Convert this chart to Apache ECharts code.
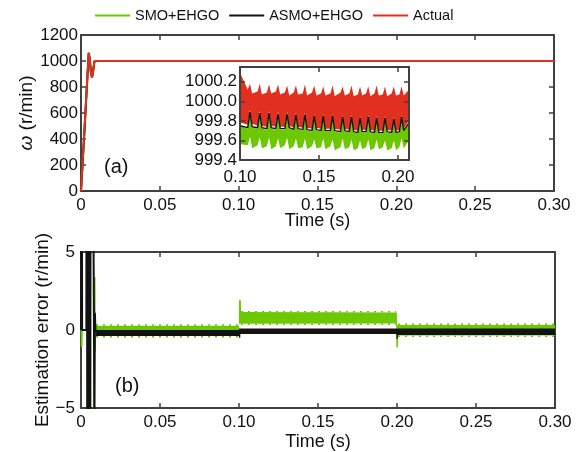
<!DOCTYPE html>
<html>
<head>
<meta charset="utf-8">
<script src="https://cdn.jsdelivr.net/npm/echarts@6/dist/echarts.min.js"></script>
<style>
  html, body { margin: 0; padding: 0; background: #fff; }
  #chart { width: 576px; height: 452px; }
</style>
</head>
<body>
<div id="chart"></div>
<script>
// ---- series names ----
const legendNames = ['SMO+EHGO', 'ASMO+EHGO', 'Actual'];

// ---- panel (a): rotor speed during start-up (r/min) ----
const speedTime   = [0, 0.0010, 0.0020, 0.0030, 0.0040, 0.0049, 0.0056, 0.0063, 0.0070, 0.0077, 0.0085, 0.0092, 0.0100, 0.3000];
const speedSMO    = [0, 205, 420, 640, 862, 1058, 1015, 912, 878, 922, 996, 1004, 999.6, 999.6];
const speedASMO   = [0, 210, 425, 645, 866, 1062, 1012, 908, 875, 924, 998, 1005, 999.8, 999.8];
const speedActual = [0, 215, 430, 650, 870, 1065, 1010, 905, 872, 925, 1000, 1006, 1000, 1000];

// ---- panel (a) zoom 0.10 s .. 0.207 s: ripple envelopes (r/min) ----
const rippleTime = [
  0.1000, 0.1006,
  0.1049, 0.1063, 0.1077,  0.1111, 0.1125, 0.1139,  0.1170, 0.1184, 0.1198,
  0.1227, 0.1241, 0.1255,  0.1284, 0.1298, 0.1312,  0.1340, 0.1354, 0.1368,
  0.1397, 0.1411, 0.1425,  0.1456, 0.1470, 0.1484,  0.1513, 0.1527, 0.1541,
  0.1572, 0.1586, 0.1600,  0.1636, 0.1650, 0.1664,  0.1692, 0.1706, 0.1720,
  0.1746, 0.1760, 0.1774,  0.1798, 0.1812, 0.1826,  0.1851, 0.1865, 0.1879,
  0.1904, 0.1918, 0.1932,  0.1960, 0.1974, 0.1988,  0.2009, 0.2023, 0.2037,
  0.2070
];
const rippleASMO = [
  999.75, 999.76,
  999.73, 999.89, 999.74,  999.73, 999.88, 999.73,  999.72, 999.88, 999.73,
  999.72, 999.87, 999.72,  999.72, 999.87, 999.73,  999.71, 999.86, 999.72,
  999.71, 999.86, 999.71,  999.70, 999.85, 999.71,  999.70, 999.85, 999.70,
  999.70, 999.85, 999.70,  999.69, 999.84, 999.70,  999.69, 999.84, 999.69,
  999.68, 999.83, 999.69,  999.69, 999.84, 999.69,  999.68, 999.83, 999.68,
  999.68, 999.83, 999.69,  999.68, 999.82, 999.68,  999.69, 999.84, 999.70,
  999.78
];
const rippleActualHigh = [
  1000.05, 1000.27,
  1000.12, 1000.18, 1000.08,  1000.10, 1000.18, 1000.07,  1000.09, 1000.17, 1000.08,
  1000.10, 1000.17, 1000.07,  1000.09, 1000.16, 1000.06,  1000.09, 1000.16, 1000.07,
  1000.08, 1000.17, 1000.06,  1000.09, 1000.16, 1000.06,  1000.08, 1000.15, 1000.06,
  1000.08, 1000.16, 1000.05,  1000.09, 1000.15, 1000.06,  1000.08, 1000.16, 1000.05,
  1000.07, 1000.15, 1000.06,  1000.08, 1000.15, 1000.05,  1000.08, 1000.16, 1000.06,
  1000.07, 1000.15, 1000.05,  1000.08, 1000.15, 1000.06,  1000.07, 1000.15, 1000.06,
  1000.12
];
const rippleActualLow = [
  999.40, 999.78,
  999.76, 999.91, 999.77,  999.75, 999.90, 999.75,  999.74, 999.90, 999.75,
  999.74, 999.89, 999.74,  999.74, 999.89, 999.75,  999.73, 999.88, 999.74,
  999.73, 999.88, 999.73,  999.72, 999.87, 999.73,  999.72, 999.87, 999.72,
  999.72, 999.87, 999.72,  999.71, 999.86, 999.72,  999.71, 999.86, 999.71,
  999.70, 999.85, 999.71,  999.71, 999.86, 999.71,  999.70, 999.85, 999.70,
  999.70, 999.85, 999.71,  999.70, 999.84, 999.70,  999.71, 999.86, 999.72,
  999.80
];
const rippleSMOHigh = [
  1000.35, 999.75,
  999.72, 999.88, 999.73,  999.72, 999.87, 999.72,  999.71, 999.87, 999.72,
  999.71, 999.86, 999.71,  999.71, 999.86, 999.72,  999.70, 999.85, 999.71,
  999.70, 999.85, 999.70,  999.69, 999.84, 999.70,  999.69, 999.84, 999.69,
  999.69, 999.84, 999.69,  999.68, 999.83, 999.69,  999.68, 999.83, 999.68,
  999.67, 999.82, 999.68,  999.68, 999.83, 999.68,  999.67, 999.82, 999.67,
  999.67, 999.82, 999.68,  999.67, 999.81, 999.67,  999.68, 999.83, 999.69,
  999.77
];
const rippleSMOLow = [
  999.45, 999.56,
  999.55, 999.64, 999.52,  999.55, 999.63, 999.52,  999.54, 999.63, 999.51,
  999.54, 999.62, 999.52,  999.55, 999.63, 999.51,  999.54, 999.62, 999.52,
  999.53, 999.62, 999.51,  999.54, 999.61, 999.52,  999.53, 999.62, 999.51,
  999.54, 999.61, 999.50,  999.53, 999.62, 999.51,  999.53, 999.61, 999.50,
  999.52, 999.60, 999.51,  999.53, 999.61, 999.50,  999.52, 999.61, 999.51,
  999.53, 999.60, 999.50,  999.52, 999.60, 999.50,  999.53, 999.62, 999.52,
  999.60
];

// ---- panel (b): speed estimation error (r/min) ----
// start-up transient (swings far beyond the +/-5 window)
const smoErrTime  = [0, 0.0002, 0.0004, 0.0007, 0.0044, 0.0048, 0.0053, 0.0087, 0.0089, 0.0091];
const smoErr      = [0, 0.6, -1.1, 0, 0, 40, -40, 3.4, -1.4, 0.27];
const asmoErrTime = [0, 0.0003, 0.0007, 0.0034, 0.0036, 0.0042, 0.0050, 0.0056, 0.0063, 0.0085, 0.0088, 0.0092];
const asmoErr     = [0, 40, 0, 0, 40, -40, 40, -40, 40, -6, 1.1, -0.2];
// steady-state ripple envelopes
const smoBandHighTime  = [0.0091, 0.0999, 0.1000, 0.1012, 0.1013, 0.1999, 0.2000, 0.3000];
const smoBandHigh      = [0.27, 0.27, 1.90, 1.90, 1.15, 1.12, 0.32, 0.32];
const smoBandLowTime   = [0.0091, 0.0999, 0.1000, 0.1995, 0.1996, 0.2006, 0.2007, 0.3000];
const smoBandLow       = [-0.38, -0.38, 0.40, 0.42, -1.10, -1.10, -0.36, -0.36];
const asmoBandHighTime = [0.0092, 0.0999, 0.1000, 0.3000];
const asmoBandHigh     = [0.00, 0.00, 0.10, 0.10];
const asmoBandLowTime  = [0.0092, 0.0999, 0.1000, 0.1008, 0.1009, 0.1996, 0.1997, 0.2005, 0.2006, 0.3000];
const asmoBandLow      = [-0.38, -0.38, -0.50, -0.50, -0.25, -0.25, -0.57, -0.57, -0.32, -0.32];
// isolated ripple peaks on the edges of the SMO envelope
const smoPeakTime = [0.0095, 0.0999, null, 0.1013, 0.1995, null, 0.2007, 0.3000];
const smoPeakHigh = [0.32, 0.32, null, 1.17, 1.17, null, 0.37, 0.37];
const smoPeakLow  = [-0.44, -0.44, null, 0.37, 0.37, null, -0.40, -0.40];

// ---- axis ticks ----
const timeTicks  = { min: 0, max: 0.3, interval: 0.05 };
const speedTicks = { min: 0, max: 1200, interval: 200 };
const errTicks   = { min: -5, max: 5, interval: 5 };
const zoomTime   = { min: 0.1, max: 0.207, interval: 0.05 };
const zoomSpeed  = { min: 999.4, max: 1000.35, interval: 0.2 };

// ---- styling ----
const GREEN = '#6cc800', BLACK = '#121212', RED = '#e1301f';
const FONT = '"Liberation Sans", Arial, Helvetica, sans-serif';
const FRAME = { color: '#404040', width: 2 };
const TXT = '#111';

const pairs = (xs, ys) => xs.map((x, i) => (x === null ? [null, null] : [x, ys[i]]));

function axisBase(ticks, gridIndex, position, showLabel, labelFmt, margin) {
  return {
    type: 'value', gridIndex, position,
    min: ticks.min, max: ticks.max, interval: ticks.interval,
    axisLine: { show: true, onZero: false, lineStyle: FRAME },
    axisTick: { show: true, inside: true, length: 5, lineStyle: { color: FRAME.color, width: 1.5 } },
    splitLine: { show: false },
    axisLabel: showLabel
      ? { show: true, formatter: labelFmt, fontSize: 17, fontFamily: FONT, color: TXT, margin: margin }
      : { show: false }
  };
}
const fmtTime  = v => (Math.abs(v) < 1e-9 ? '0' : v.toFixed(2));
const fmtInt   = v => (v < 0 ? '\u2212' + Math.abs(Math.round(v)) : String(Math.round(v)));
const fmtSpeed = v => v.toFixed(1);

function band(name, xi, yi, hiT, hi, loT, lo, color, z) {
  return {
    type: 'custom', name, xAxisIndex: xi, yAxisIndex: yi, z: z || 2,
    itemStyle: { color },
    data: [[hiT[0], hi[0]]],
    renderItem: function (params, api) {
      const pts = [];
      for (let i = 0; i < hiT.length; i++) pts.push(api.coord([hiT[i], hi[i]]));
      for (let i = loT.length - 1; i >= 0; i--) pts.push(api.coord([loT[i], lo[i]]));
      return { type: 'polygon', shape: { points: pts }, style: { fill: color } };
    }
  };
}
function line(name, xi, yi, data, color, width, z, dashed) {
  return {
    type: 'line', name, xAxisIndex: xi, yAxisIndex: yi, z: z || 2,
    data, showSymbol: false, symbol: 'none', clip: true, animation: false,
    connectNulls: false,
    lineStyle: { color, width, type: dashed || 'solid' }, itemStyle: { color }
  };
}

const xTopMain = axisBase(timeTicks, 0, 'bottom', true, fmtTime, 6);
xTopMain.name = 'Time (s)';
xTopMain.nameLocation = 'middle';
xTopMain.nameGap = 21;
xTopMain.nameMoveOverlap = false;
xTopMain.nameTextStyle = { fontSize: 18, fontFamily: FONT, color: TXT };

const xBotMain = axisBase(timeTicks, 1, 'bottom', true, fmtTime, 6);
xBotMain.name = 'Time (s)';
xBotMain.nameLocation = 'middle';
xBotMain.nameGap = 25;
xBotMain.nameMoveOverlap = false;
xBotMain.nameTextStyle = { fontSize: 18, fontFamily: FONT, color: TXT };

const yTopMain = axisBase(speedTicks, 0, 'left', true, fmtInt, 3);
yTopMain.name = '{w|\u03c9} (r/min)';
yTopMain.nameLocation = 'middle';
yTopMain.nameGap = 45;
yTopMain.nameMoveOverlap = false;
yTopMain.nameTextStyle = { fontSize: 19, fontFamily: FONT, color: TXT,
  rich: { w: { fontSize: 19, fontFamily: FONT, fontStyle: 'italic', color: TXT } } };

const yBotMain = axisBase(errTicks, 1, 'left', true, fmtInt, 6);
yBotMain.name = 'Estimation error (r/min)';
yBotMain.nameLocation = 'middle';
yBotMain.nameGap = 29;
yBotMain.nameMoveOverlap = false;
yBotMain.nameTextStyle = { fontSize: 19, fontFamily: FONT, color: TXT };

const xZoom = axisBase(zoomTime, 2, 'bottom', true, fmtTime, 9);
const yZoom = axisBase(zoomSpeed, 2, 'left', true, fmtSpeed, 3);

const option = {
  animation: false,
  backgroundColor: '#fff',
  textStyle: { fontFamily: FONT },
  legend: {
    data: legendNames, top: 8, left: 95, padding: 0, icon: 'rect',
    itemWidth: 35, itemHeight: 2, itemGap: 10,
    textStyle: { fontSize: 14.5, fontFamily: FONT, color: TXT },
    selectedMode: false
  },
  grid: [
    { left: 81, top: 35, width: 473, height: 156, show: false },
    { left: 81, top: 252, width: 474, height: 158, show: false },
    { left: 240, top: 67, width: 169, height: 93, show: true, backgroundColor: '#fff', borderWidth: 0, z: 3 }
  ],
  xAxis: [
    xTopMain, axisBase(timeTicks, 0, 'top', false),
    xBotMain, axisBase(timeTicks, 1, 'top', false),
    Object.assign(xZoom, { z: 5 }), Object.assign(axisBase(zoomTime, 2, 'top', false), { z: 5 })
  ],
  yAxis: [
    yTopMain, axisBase(speedTicks, 0, 'right', false),
    yBotMain, axisBase(errTicks, 1, 'right', false),
    Object.assign(yZoom, { z: 5 }), Object.assign(axisBase(zoomSpeed, 2, 'right', false), { z: 5 })
  ],
  graphic: [
    { type: 'text', left: 104, top: 157, style: { text: '(a)', font: '20px ' + FONT, fill: TXT } },
    { type: 'text', left: 115, top: 376, style: { text: '(b)', font: '20px ' + FONT, fill: TXT } }
  ],
  series: [
    // panel (a)
    line(legendNames[0], 0, 0, pairs(speedTime, speedSMO), GREEN, 2),
    line(legendNames[1], 0, 0, pairs(speedTime, speedASMO), BLACK, 2),
    line(legendNames[2], 0, 0, pairs(speedTime, speedActual), RED, 2),
    // panel (a) zoom
    band(legendNames[0], 4, 4, rippleTime, rippleSMOHigh, rippleTime, rippleSMOLow, GREEN, 4),
    line(legendNames[1], 4, 4, pairs(rippleTime, rippleASMO), BLACK, 1.4, 4),
    band(legendNames[2], 4, 4, rippleTime, rippleActualHigh, rippleTime, rippleActualLow, RED, 4),
    // panel (b)
    line(legendNames[0], 2, 2, pairs(smoPeakTime, smoPeakHigh), GREEN, 1.5, 2, [2, 5]),
    line(legendNames[0], 2, 2, pairs(smoPeakTime, smoPeakLow), GREEN, 1.5, 2, [2, 5]),
    band(legendNames[0], 2, 2, smoBandHighTime, smoBandHigh, smoBandLowTime, smoBandLow, GREEN),
    line(legendNames[0], 2, 2, pairs(smoErrTime, smoErr), GREEN, 1.6),
    band(legendNames[1], 2, 2, asmoBandHighTime, asmoBandHigh, asmoBandLowTime, asmoBandLow, BLACK),
    line(legendNames[1], 2, 2, pairs(asmoErrTime, asmoErr), BLACK, 2)
  ]
};

const chart = echarts.init(document.getElementById('chart'), null, { renderer: 'canvas' });
chart.setOption(option);
</script>
</body>
</html>
